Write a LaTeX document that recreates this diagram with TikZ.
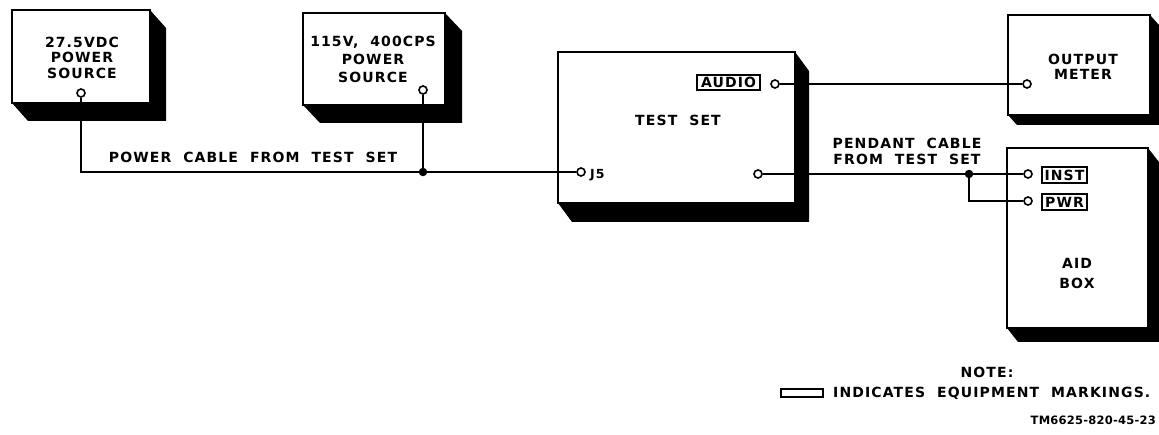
\documentclass[tikz,border=0pt]{standalone}
\usepackage{fontspec}
\setmainfont{DejaVu Sans}[LetterSpace=8,WordSpace=2]
\newfontfamily\tmfont{DejaVu Sans}[LetterSpace=2]
\newcommand\eqbox[7]{%
  \fill (#4,#3) -- (#4+#6,#3+#7) -- (#4+#6,#5+#7) -- (#2+#6,#5+#7) -- (#2,#5) -- cycle;
  \node[eqframe, minimum width={#4-#2}, minimum height={#5-#3}, anchor=north west] (#1) at (#2,#3) {};}
\begin{document}
\begin{tikzpicture}[x=1pt,y=-1pt,
  eqframe/.style={draw, fill=white, line width=2.6pt, inner sep=0pt, outer sep=0pt},
  lbl/.style={font=\bfseries\fontsize{14}{15.5}\selectfont, align=center, inner sep=0pt},
  wire/.style={line width=1.6pt},
  port/.style={circle, draw, fill=white, line width=1.6pt, minimum size=8pt, inner sep=0pt},
  joint/.style={circle, fill, minimum size=8.5pt, inner sep=0pt},
  tagbox/.style={draw, line width=1.6pt, inner sep=0pt, font=\bfseries\fontsize{14}{15}\selectfont}]
\useasboundingbox (0,0) rectangle (1159,435);
% boxes
\eqbox{ps1}{12}{10}{150}{103}{16}{18}
\eqbox{ps2}{303}{13}{445}{105}{17}{18}
\eqbox{ts}{558}{52}{795}{203}{14}{19}
\eqbox{om}{1008}{15}{1150}{115}{9}{10}
\eqbox{aid}{1007}{148}{1148}{328}{11}{14}
% box labels
\node[lbl] (t1) at (82,57.5) {27.5VDC\\POWER\\SOURCE};
\node[lbl, font=\bfseries\fontsize{14}{18}\selectfont] (t2) at (373,59) {115V, 400CPS\\POWER\\SOURCE};
\node[lbl] (t3) at (678,120) {TEST SET};
\node[lbl, font=\bfseries\fontsize{14}{14.5}\selectfont] (t4) at (1083,67) {OUTPUT\\METER};
\node[lbl, font=\bfseries\fontsize{14}{20}\selectfont] (t5) at (1077,273) {AID\\BOX};
% marking tags
\node[tagbox, minimum width=63pt, minimum height=15pt] (audio) at (728.5,82.5) {AUDIO};
\node[tagbox, minimum width=45pt, minimum height=16pt] (inst) at (1064.5,175) {INST};
\node[tagbox, minimum width=45pt, minimum height=16pt] (pwr) at (1064.5,202) {PWR};
% ports and junctions
\node[port] (p1) at (81,93) {};
\node[port] (p2) at (423,90) {};
\node[port] (j5) at (581,172) {};
\node[lbl, font=\bfseries\fontsize{12.5}{13}\selectfont, anchor=west] (j5l) at (590,175) {J5};
\node[port] (tsr) at (758,174) {};
\node[port] (pa) at (775,84) {};
\node[port] (pom) at (1027,84) {};
\node[port] (pinst) at (1028,174) {};
\node[port] (ppwr) at (1028,201) {};
\node[joint] (ja) at (423,172) {};
\node[joint] (jb) at (969,174) {};
% wires
\draw[wire] (p1) |- (j5);
\draw[wire] (p2) -- (ja);
\draw[wire] (pa) -- (pom);
\draw[wire] (tsr) -- (pinst);
\draw[wire] (jb) |- (ppwr);
% cable labels
\node[lbl] (c1) at (253,157) {POWER CABLE FROM TEST SET};
\node[lbl, font=\bfseries\fontsize{14}{16}\selectfont] (c2) at (907,151) {PENDANT CABLE\\FROM TEST SET};
% note
\node[lbl] (note) at (987,372) {NOTE:};
\node[draw, line width=1.2pt, minimum width=42pt, minimum height=8pt, inner sep=0pt] (leg) at (802,393) {};
\node[lbl, anchor=west] (legt) at (833,393) {INDICATES EQUIPMENT MARKINGS.};
\node[lbl, font=\tmfont\bfseries\fontsize{11.5}{15}\selectfont, anchor=east] (tm) at (1156,420) {TM6625-820-45-23};
\end{tikzpicture}
\end{document}
